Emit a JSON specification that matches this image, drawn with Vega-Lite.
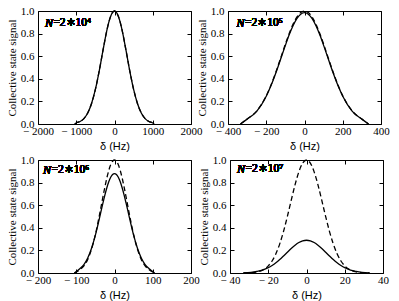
{
  "$schema": "https://vega.github.io/schema/vega-lite/v6.json",
  "background": "white",
  "padding": {"left": 5, "top": 4, "right": 0, "bottom": 0},
  "config": {
    "view": {"stroke": "black", "strokeWidth": 1},
    "axis": {
      "domain": false, "grid": false, "tickSize": -4, "tickColor": "black", "tickWidth": 1,
      "labelFont": "Liberation Serif", "labelFontSize": 11, "labelColor": "black",
      "labelFlush": false, "labelOverlap": false,
      "titleColor": "black", "titleFontWeight": "normal"
    },
    "axisX": {"labelPadding": 5, "titleFont": "Liberation Sans", "titleFontSize": 11, "titlePadding": 4,
      "labelExpr": "datum.value < 0 ? '− ' + format(-datum.value, 'd') : format(datum.value, 'd')"},
    "axisY": {"labelPadding": 8, "titleFont": "Liberation Serif", "titleFontSize": 11, "titlePadding": 3}
  },
  "datasets": {
    "a": [
      {"d": -1040, "solid": 0, "dashed": 0},
      {"d": -1000, "solid": 0.009, "dashed": 0.009},
      {"d": -900, "solid": 0.022, "dashed": 0.022},
      {"d": -800, "solid": 0.048, "dashed": 0.048},
      {"d": -700, "solid": 0.098, "dashed": 0.098},
      {"d": -600, "solid": 0.182, "dashed": 0.182},
      {"d": -500, "solid": 0.306, "dashed": 0.306},
      {"d": -400, "solid": 0.469, "dashed": 0.469},
      {"d": -300, "solid": 0.653, "dashed": 0.653},
      {"d": -200, "solid": 0.828, "dashed": 0.828},
      {"d": -150, "solid": 0.899, "dashed": 0.899},
      {"d": -100, "solid": 0.954, "dashed": 0.954},
      {"d": -50, "solid": 0.988, "dashed": 0.988},
      {"d": 0, "solid": 1.0, "dashed": 1.0},
      {"d": 50, "solid": 0.988, "dashed": 0.988},
      {"d": 100, "solid": 0.954, "dashed": 0.954},
      {"d": 150, "solid": 0.899, "dashed": 0.899},
      {"d": 200, "solid": 0.828, "dashed": 0.828},
      {"d": 300, "solid": 0.653, "dashed": 0.653},
      {"d": 400, "solid": 0.469, "dashed": 0.469},
      {"d": 500, "solid": 0.306, "dashed": 0.306},
      {"d": 600, "solid": 0.182, "dashed": 0.182},
      {"d": 700, "solid": 0.098, "dashed": 0.098},
      {"d": 800, "solid": 0.048, "dashed": 0.048},
      {"d": 900, "solid": 0.022, "dashed": 0.022},
      {"d": 1000, "solid": 0.009, "dashed": 0.009},
      {"d": 1040, "solid": 0, "dashed": 0}
    ],
    "b": [
      {"d": -335, "solid": 0, "dashed": 0},
      {"d": -300, "solid": 0.043, "dashed": 0.044},
      {"d": -250, "solid": 0.112, "dashed": 0.114},
      {"d": -200, "solid": 0.246, "dashed": 0.249},
      {"d": -175, "solid": 0.340, "dashed": 0.345},
      {"d": -150, "solid": 0.451, "dashed": 0.458},
      {"d": -125, "solid": 0.573, "dashed": 0.581},
      {"d": -100, "solid": 0.696, "dashed": 0.707},
      {"d": -80, "solid": 0.789, "dashed": 0.801},
      {"d": -60, "solid": 0.869, "dashed": 0.883},
      {"d": -40, "solid": 0.932, "dashed": 0.946},
      {"d": -20, "solid": 0.971, "dashed": 0.986},
      {"d": 0, "solid": 0.985, "dashed": 1.0},
      {"d": 20, "solid": 0.971, "dashed": 0.986},
      {"d": 40, "solid": 0.932, "dashed": 0.946},
      {"d": 60, "solid": 0.869, "dashed": 0.883},
      {"d": 80, "solid": 0.789, "dashed": 0.801},
      {"d": 100, "solid": 0.696, "dashed": 0.707},
      {"d": 125, "solid": 0.573, "dashed": 0.581},
      {"d": 150, "solid": 0.451, "dashed": 0.458},
      {"d": 175, "solid": 0.340, "dashed": 0.345},
      {"d": 200, "solid": 0.246, "dashed": 0.249},
      {"d": 250, "solid": 0.112, "dashed": 0.114},
      {"d": 300, "solid": 0.043, "dashed": 0.044},
      {"d": 335, "solid": 0, "dashed": 0}
    ],
    "c": [
      {"d": -105, "solid": 0, "dashed": 0},
      {"d": -90, "solid": 0.039, "dashed": 0.030},
      {"d": -80, "solid": 0.075, "dashed": 0.063},
      {"d": -70, "solid": 0.133, "dashed": 0.120},
      {"d": -60, "solid": 0.219, "dashed": 0.211},
      {"d": -50, "solid": 0.335, "dashed": 0.339},
      {"d": -40, "solid": 0.475, "dashed": 0.501},
      {"d": -30, "solid": 0.622, "dashed": 0.678},
      {"d": -25, "solid": 0.691, "dashed": 0.763},
      {"d": -20, "solid": 0.754, "dashed": 0.841},
      {"d": -15, "solid": 0.807, "dashed": 0.907},
      {"d": -10, "solid": 0.847, "dashed": 0.958},
      {"d": -5, "solid": 0.872, "dashed": 0.989},
      {"d": 0, "solid": 0.88, "dashed": 1.0},
      {"d": 5, "solid": 0.872, "dashed": 0.989},
      {"d": 10, "solid": 0.847, "dashed": 0.958},
      {"d": 15, "solid": 0.807, "dashed": 0.907},
      {"d": 20, "solid": 0.754, "dashed": 0.841},
      {"d": 25, "solid": 0.691, "dashed": 0.763},
      {"d": 30, "solid": 0.622, "dashed": 0.678},
      {"d": 40, "solid": 0.475, "dashed": 0.501},
      {"d": 50, "solid": 0.335, "dashed": 0.339},
      {"d": 60, "solid": 0.219, "dashed": 0.211},
      {"d": 70, "solid": 0.133, "dashed": 0.120},
      {"d": 80, "solid": 0.075, "dashed": 0.063},
      {"d": 90, "solid": 0.039, "dashed": 0.030},
      {"d": 105, "solid": 0, "dashed": 0}
    ],
    "d": [
      {"d": -33, "solid": 0, "dashed": 0},
      {"d": -29, "solid": 0.006, "dashed": 0.003},
      {"d": -26, "solid": 0.014, "dashed": 0.009},
      {"d": -23, "solid": 0.026, "dashed": 0.026},
      {"d": -20, "solid": 0.047, "dashed": 0.063},
      {"d": -18, "solid": 0.067, "dashed": 0.106},
      {"d": -16, "solid": 0.091, "dashed": 0.170},
      {"d": -14, "solid": 0.119, "dashed": 0.258},
      {"d": -12, "solid": 0.151, "dashed": 0.369},
      {"d": -10, "solid": 0.184, "dashed": 0.501},
      {"d": -8, "solid": 0.217, "dashed": 0.642},
      {"d": -6, "solid": 0.246, "dashed": 0.780},
      {"d": -4, "solid": 0.270, "dashed": 0.895},
      {"d": -2, "solid": 0.285, "dashed": 0.973},
      {"d": 0, "solid": 0.29, "dashed": 1.0},
      {"d": 2, "solid": 0.285, "dashed": 0.973},
      {"d": 4, "solid": 0.270, "dashed": 0.895},
      {"d": 6, "solid": 0.246, "dashed": 0.780},
      {"d": 8, "solid": 0.217, "dashed": 0.642},
      {"d": 10, "solid": 0.184, "dashed": 0.501},
      {"d": 12, "solid": 0.151, "dashed": 0.369},
      {"d": 14, "solid": 0.119, "dashed": 0.258},
      {"d": 16, "solid": 0.091, "dashed": 0.170},
      {"d": 18, "solid": 0.067, "dashed": 0.106},
      {"d": 20, "solid": 0.047, "dashed": 0.063},
      {"d": 23, "solid": 0.026, "dashed": 0.026},
      {"d": 26, "solid": 0.014, "dashed": 0.009},
      {"d": 29, "solid": 0.006, "dashed": 0.003},
      {"d": 33, "solid": 0, "dashed": 0}
    ]
  },
  "spacing": 1,
  "vconcat": [
    {
      "hconcat": [
        {
          "width": 153, "height": 113,
          "data": {"name": "a"},
          "layer": [
            {"mark": {"type": "line", "color": "black", "strokeWidth": 1.3, "interpolate": "monotone"},
             "encoding": {
               "x": {"field": "d", "type": "quantitative", "scale": {"domain": [-2000, 2000], "nice": false}, "axis": {"values": [-2000, -1000, 0, 1000, 2000], "title": "δ (Hz)"}},
               "y": {"field": "solid", "type": "quantitative", "scale": {"domain": [0, 1], "nice": false}, "axis": {"values": [0, 0.2, 0.4, 0.6, 0.8, 1], "format": ".1f", "title": "Collective state signal"}}
             }},
            {"mark": {"type": "line", "color": "black", "strokeWidth": 1.3, "strokeDash": [5, 3], "interpolate": "monotone"},
             "encoding": {
               "x": {"field": "d", "type": "quantitative", "scale": {"domain": [-2000, 2000], "nice": false}, "axis": {"orient": "top", "values": [-2000, -1000, 0, 1000, 2000], "labels": false, "title": null}},
               "y": {"field": "dashed", "type": "quantitative", "scale": {"domain": [0, 1], "nice": false}, "axis": {"orient": "right", "values": [0, 0.2, 0.4, 0.6, 0.8, 1], "labels": false, "title": null}}
             }},
            {"mark": {"type": "text", "font": "Liberation Serif", "fontStyle": "italic", "fontSize": 12, "align": "left", "baseline": "middle", "color": "black"},
             "encoding": {"x": {"datum": -1820, "type": "quantitative", "axis": null}, "y": {"datum": 0.89, "type": "quantitative", "axis": null}, "text": {"value": "N"}}},
            {"mark": {"type": "text", "font": "Liberation Serif", "fontSize": 11.5, "align": "left", "baseline": "middle", "dx": 8.5, "color": "black"},
             "encoding": {"x": {"datum": -1820, "type": "quantitative", "axis": null}, "y": {"datum": 0.89, "type": "quantitative", "axis": null}, "text": {"value": "=2∗10⁴"}}}
          ],
          "resolve": {"axis": {"x": "independent", "y": "independent"}}
        },
        {
          "width": 153, "height": 113,
          "data": {"name": "b"},
          "layer": [
            {"mark": {"type": "line", "color": "black", "strokeWidth": 1.3, "interpolate": "monotone"},
             "encoding": {
               "x": {"field": "d", "type": "quantitative", "scale": {"domain": [-400, 400], "nice": false}, "axis": {"values": [-400, -200, 0, 200, 400], "title": "δ (Hz)"}},
               "y": {"field": "solid", "type": "quantitative", "scale": {"domain": [0, 1], "nice": false}, "axis": {"values": [0, 0.2, 0.4, 0.6, 0.8, 1], "format": ".1f", "title": "Collective state signal"}}
             }},
            {"mark": {"type": "line", "color": "black", "strokeWidth": 1.3, "strokeDash": [5, 3], "interpolate": "monotone"},
             "encoding": {
               "x": {"field": "d", "type": "quantitative", "scale": {"domain": [-400, 400], "nice": false}, "axis": {"orient": "top", "values": [-400, -200, 0, 200, 400], "labels": false, "title": null}},
               "y": {"field": "dashed", "type": "quantitative", "scale": {"domain": [0, 1], "nice": false}, "axis": {"orient": "right", "values": [0, 0.2, 0.4, 0.6, 0.8, 1], "labels": false, "title": null}}
             }},
            {"mark": {"type": "text", "font": "Liberation Serif", "fontStyle": "italic", "fontSize": 12, "align": "left", "baseline": "middle", "color": "black"},
             "encoding": {"x": {"datum": -356, "type": "quantitative", "axis": null}, "y": {"datum": 0.89, "type": "quantitative", "axis": null}, "text": {"value": "N"}}},
            {"mark": {"type": "text", "font": "Liberation Serif", "fontSize": 11.5, "align": "left", "baseline": "middle", "dx": 8.5, "color": "black"},
             "encoding": {"x": {"datum": -356, "type": "quantitative", "axis": null}, "y": {"datum": 0.89, "type": "quantitative", "axis": null}, "text": {"value": "=2∗10⁵"}}}
          ],
          "resolve": {"axis": {"x": "independent", "y": "independent"}}
        }
      ],
      "spacing": 37,
      "bounds": "flush"
    },
    {
      "hconcat": [
        {
          "width": 153, "height": 113,
          "data": {"name": "c"},
          "layer": [
            {"mark": {"type": "line", "color": "black", "strokeWidth": 1.3, "interpolate": "monotone"},
             "encoding": {
               "x": {"field": "d", "type": "quantitative", "scale": {"domain": [-200, 200], "nice": false}, "axis": {"values": [-200, -100, 0, 100, 200], "title": "δ (Hz)"}},
               "y": {"field": "solid", "type": "quantitative", "scale": {"domain": [0, 1], "nice": false}, "axis": {"values": [0, 0.2, 0.4, 0.6, 0.8, 1], "format": ".1f", "title": "Collective state signal"}}
             }},
            {"mark": {"type": "line", "color": "black", "strokeWidth": 1.3, "strokeDash": [5, 3], "interpolate": "monotone"},
             "encoding": {
               "x": {"field": "d", "type": "quantitative", "scale": {"domain": [-200, 200], "nice": false}, "axis": {"orient": "top", "values": [-200, -100, 0, 100, 200], "labels": false, "title": null}},
               "y": {"field": "dashed", "type": "quantitative", "scale": {"domain": [0, 1], "nice": false}, "axis": {"orient": "right", "values": [0, 0.2, 0.4, 0.6, 0.8, 1], "labels": false, "title": null}}
             }},
            {"mark": {"type": "text", "font": "Liberation Serif", "fontStyle": "italic", "fontSize": 12, "align": "left", "baseline": "middle", "color": "black"},
             "encoding": {"x": {"datum": -187, "type": "quantitative", "axis": null}, "y": {"datum": 0.91, "type": "quantitative", "axis": null}, "text": {"value": "N"}}},
            {"mark": {"type": "text", "font": "Liberation Serif", "fontSize": 11.5, "align": "left", "baseline": "middle", "dx": 8.5, "color": "black"},
             "encoding": {"x": {"datum": -187, "type": "quantitative", "axis": null}, "y": {"datum": 0.91, "type": "quantitative", "axis": null}, "text": {"value": "=2∗10⁶"}}}
          ],
          "resolve": {"axis": {"x": "independent", "y": "independent"}}
        },
        {
          "width": 153, "height": 113,
          "data": {"name": "d"},
          "layer": [
            {"mark": {"type": "line", "color": "black", "strokeWidth": 1.3, "interpolate": "monotone"},
             "encoding": {
               "x": {"field": "d", "type": "quantitative", "scale": {"domain": [-40, 40], "nice": false}, "axis": {"values": [-40, -20, 0, 20, 40], "title": "δ (Hz)"}},
               "y": {"field": "solid", "type": "quantitative", "scale": {"domain": [0, 1], "nice": false}, "axis": {"values": [0, 0.2, 0.4, 0.6, 0.8, 1], "format": ".1f", "title": "Collective state signal"}}
             }},
            {"mark": {"type": "line", "color": "black", "strokeWidth": 1.3, "strokeDash": [5, 3], "interpolate": "monotone"},
             "encoding": {
               "x": {"field": "d", "type": "quantitative", "scale": {"domain": [-40, 40], "nice": false}, "axis": {"orient": "top", "values": [-40, -20, 0, 20, 40], "labels": false, "title": null}},
               "y": {"field": "dashed", "type": "quantitative", "scale": {"domain": [0, 1], "nice": false}, "axis": {"orient": "right", "values": [0, 0.2, 0.4, 0.6, 0.8, 1], "labels": false, "title": null}}
             }},
            {"mark": {"type": "text", "font": "Liberation Serif", "fontStyle": "italic", "fontSize": 12, "align": "left", "baseline": "middle", "color": "black"},
             "encoding": {"x": {"datum": -36.3, "type": "quantitative", "axis": null}, "y": {"datum": 0.92, "type": "quantitative", "axis": null}, "text": {"value": "N"}}},
            {"mark": {"type": "text", "font": "Liberation Serif", "fontSize": 11.5, "align": "left", "baseline": "middle", "dx": 8.5, "color": "black"},
             "encoding": {"x": {"datum": -36.3, "type": "quantitative", "axis": null}, "y": {"datum": 0.92, "type": "quantitative", "axis": null}, "text": {"value": "=2∗10⁷"}}}
          ],
          "resolve": {"axis": {"x": "independent", "y": "independent"}}
        }
      ],
      "spacing": 39,
      "bounds": "flush"
    }
  ]
}
